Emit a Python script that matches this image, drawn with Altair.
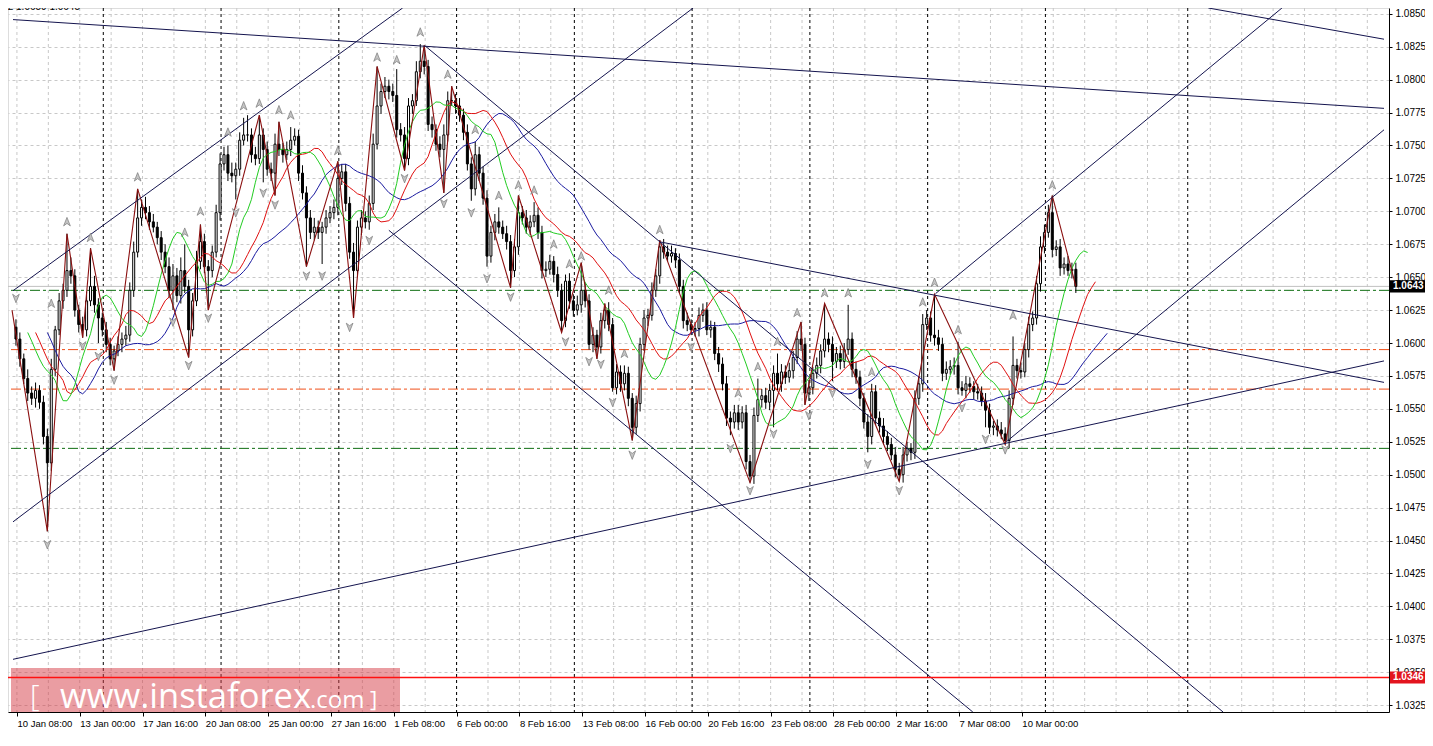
import json
import altair as alt
import pandas as pd

# ---------------- data ----------------
x_labels = ["10 Jan 08:00", "13 Jan 00:00", "17 Jan 16:00", "20 Jan 08:00", "25 Jan 00:00",
            "27 Jan 16:00", "1 Feb 08:00", "6 Feb 00:00", "8 Feb 16:00", "13 Feb 08:00",
            "16 Feb 00:00", "20 Feb 16:00", "23 Feb 08:00", "28 Feb 00:00", "2 Mar 16:00",
            "7 Mar 08:00", "10 Mar 00:00"]

first_open = 1.0612
closes = [
    1.0603, 1.0588, 1.0573, 1.0562, 1.0558, 1.0564, 1.0555, 1.0529, 1.0509, 1.0580,
    1.0610, 1.0632, 1.0640, 1.0655, 1.0651, 1.0625, 1.0614, 1.0610, 1.0632, 1.0643,
    1.0629, 1.0619, 1.0610, 1.0599, 1.0588, 1.0594, 1.0599, 1.0603, 1.0606, 1.0640,
    1.0669, 1.0695, 1.0703, 1.0699, 1.0692, 1.0688, 1.0680, 1.0669, 1.0658, 1.0640,
    1.0651, 1.0636, 1.0655, 1.0643, 1.0610, 1.0632, 1.0662, 1.0677, 1.0658, 1.0655,
    1.0669, 1.0699, 1.0736, 1.0743, 1.0729, 1.0727, 1.0732, 1.0754, 1.0758, 1.0758,
    1.0743, 1.0740, 1.0758, 1.0747, 1.0732, 1.0729, 1.0751, 1.0747, 1.0743, 1.0747,
    1.0754, 1.0757, 1.0729, 1.0714, 1.0695, 1.0684, 1.0688, 1.0684, 1.0688, 1.0695,
    1.0699, 1.0703, 1.0725, 1.0730, 1.0706, 1.0669, 1.0655, 1.0688, 1.0695, 1.0692,
    1.0706, 1.0751, 1.0780, 1.0791, 1.0795, 1.0791, 1.0788, 1.0762, 1.0758, 1.0740,
    1.0780, 1.0784, 1.0806, 1.0814, 1.0810, 1.0766, 1.0762, 1.0751, 1.0747, 1.0758,
    1.0784, 1.0784, 1.0780, 1.0773, 1.0760, 1.0736, 1.0717, 1.0743, 1.0729, 1.0710,
    1.0666, 1.0684, 1.0692, 1.0688, 1.0683, 1.0677, 1.0655, 1.0673, 1.0699, 1.0695,
    1.0688, 1.0692, 1.0697, 1.0684, 1.0655, 1.0656, 1.0662, 1.0652, 1.0640, 1.0617,
    1.0647, 1.0632, 1.0625, 1.0629, 1.0640, 1.0632, 1.0599, 1.0606, 1.0597, 1.0617,
    1.0625, 1.0614, 1.0566, 1.0578, 1.0569, 1.0577, 1.0558, 1.0536, 1.0554, 1.0599,
    1.0619, 1.0621, 1.0640, 1.0651, 1.0673, 1.0669, 1.0666, 1.0668, 1.0663, 1.0643,
    1.0617, 1.0614, 1.0610, 1.0611, 1.0621, 1.0625, 1.0610, 1.0612, 1.0592, 1.0584,
    1.0569, 1.0543, 1.0540, 1.0547, 1.0540, 1.0547, 1.0510, 1.0499, 1.0545, 1.0557,
    1.0560, 1.0555, 1.0564, 1.0577, 1.0569, 1.0578, 1.0574, 1.0579, 1.0589, 1.0603,
    1.0599, 1.0562, 1.0566, 1.0577, 1.0583, 1.0594, 1.0603, 1.0599, 1.0586, 1.0592,
    1.0586, 1.0595, 1.0603, 1.0580, 1.0574, 1.0558, 1.0540, 1.0529, 1.0563, 1.0543,
    1.0537, 1.0529, 1.0523, 1.0515, 1.0504, 1.0500, 1.0515, 1.0520, 1.0517, 1.0558,
    1.0569, 1.0614, 1.0619, 1.0606, 1.0604, 1.0599, 1.0577, 1.0580, 1.0582, 1.0583,
    1.0566, 1.0564, 1.0569, 1.0567, 1.0563, 1.0562, 1.0556, 1.0549, 1.0536, 1.0537,
    1.0534, 1.0531, 1.0526, 1.0558, 1.0583, 1.0579, 1.0578, 1.0595, 1.0614, 1.0619,
    1.0645, 1.0673, 1.0684, 1.0699, 1.0671, 1.0673, 1.0657, 1.0660, 1.0655, 1.0656,
    1.0643]

# upper / lower shadow length of each candle, in pips
up_wick = [
    6, 5, 4, 7, 5, 6, 4, 5, 6, 8,
    3, 6, 5, 28, 10, 5, 4, 6, 7, 29,
    8, 5, 4, 6, 5, 4, 6, 5, 7, 6,
    8, 22, 6, 8, 5, 6, 4, 5, 6, 7,
    9, 6, 10, 20, 5, 6, 8, 13, 6, 5,
    5, 6, 8, 6, 7, 8, 5, 6, 13, 15,
    5, 6, 15, 5, 6, 5, 8, 17, 5, 6,
    10, 6, 5, 6, 5, 6, 7, 5, 4, 6,
    5, 6, 13, 6, 6, 5, 7, 5, 6, 5,
    6, 8, 30, 6, 7, 5, 6, 20, 5, 6,
    6, 5, 8, 13, 12, 5, 6, 4, 6, 8,
    7, 11, 5, 6, 5, 6, 5, 10, 6, 5,
    6, 5, 6, 11, 5, 6, 5, 6, 13, 5,
    6, 5, 10, 6, 5, 6, 5, 4, 6, 5,
    5, 6, 5, 7, 21, 6, 5, 6, 4, 6,
    5, 6, 5, 6, 5, 6, 5, 4, 6, 5,
    6, 5, 6, 5, 5, 6, 5, 6, 4, 5,
    5, 6, 4, 5, 6, 5, 6, 5, 4, 5,
    5, 6, 5, 6, 6, 5, 6, 5, 6, 16,
    5, 6, 5, 6, 15, 6, 5, 6, 5, 6,
    13, 5, 6, 5, 6, 5, 27, 5, 6, 5,
    6, 5, 26, 5, 6, 5, 4, 6, 6, 5,
    5, 6, 4, 5, 6, 5, 6, 5, 4, 6,
    6, 8, 6, 5, 31, 6, 5, 6, 5, 6,
    18, 5, 6, 5, 4, 6, 5, 6, 5, 4,
    5, 6, 5, 6, 22, 5, 6, 5, 6, 5,
    6, 8, 6, 6, 13, 5, 6, 5, 6, 5,
    5]
dn_wick = [
    5, 6, 4, 6, 5, 7, 5, 6, 52, 6,
    5, 4, 6, 5, 6, 5, 6, 6, 5, 4,
    6, 19, 5, 6, 5, 9, 4, 6, 5, 5,
    5, 4, 6, 5, 6, 4, 5, 6, 5, 6,
    15, 5, 6, 5, 21, 5, 4, 6, 5, 30,
    5, 4, 6, 5, 6, 5, 18, 5, 4, 5,
    6, 5, 4, 25, 5, 6, 17, 5, 6, 4,
    5, 4, 6, 5, 37, 5, 6, 5, 24, 5,
    4, 5, 6, 5, 6, 5, 36, 5, 6, 5,
    6, 5, 4, 6, 5, 6, 5, 6, 5, 9,
    5, 6, 4, 5, 6, 5, 6, 5, 6, 33,
    5, 4, 6, 5, 6, 5, 9, 5, 6, 5,
    8, 5, 6, 5, 4, 6, 13, 5, 6, 5,
    5, 6, 4, 5, 6, 5, 4, 6, 5, 9,
    5, 6, 5, 4, 6, 5, 4, 6, 9, 5,
    6, 5, 3, 5, 6, 5, 6, 10, 5, 6,
    5, 6, 4, 5, 6, 5, 4, 5, 6, 5,
    6, 5, 4, 5, 6, 5, 4, 6, 5, 6,
    5, 6, 10, 5, 6, 5, 6, 5, 6, 5,
    6, 5, 6, 28, 5, 6, 5, 4, 6, 5,
    5, 9, 6, 5, 4, 6, 5, 6, 15, 5,
    6, 5, 4, 6, 5, 6, 5, 12, 6, 5,
    5, 6, 5, 4, 6, 5, 6, 5, 6, 5,
    5, 6, 4, 5, 6, 5, 6, 5, 4, 6,
    5, 4, 6, 5, 6, 5, 4, 13, 5, 6,
    5, 4, 3, 6, 5, 6, 5, 4, 6, 5,
    5, 6, 5, 4, 6, 5, 6, 5, 4, 6,
    5]

# zigzag vertices (bar index, price)
zz_bar = [-1, 8, 13, 17, 19, 25, 31, 44, 47, 49, 62, 66, 67, 74, 82, 86, 92, 99, 104, 109, 111,
          126, 128, 139, 144, 148, 150, 157, 164, 187, 200, 201, 206, 225, 234, 252, 264, 270]
zz_price = [1.0625, 1.0457, 1.0683, 1.0604, 1.0672, 1.0579, 1.0717, 1.0589, 1.0690, 1.0625,
            1.0773, 1.0712, 1.0768, 1.0658, 1.0738, 1.0619, 1.0810, 1.0731, 1.0826, 1.0714,
            1.0795, 1.0642, 1.0712, 1.0608, 1.0661, 1.0588, 1.0630, 1.0526, 1.0678, 1.0494,
            1.0616, 1.0553, 1.0630, 1.0495, 1.0637, 1.0523, 1.0712, 1.0643]

# fractal arrows
up_bar = [9, 13, 19, 31, 43, 47, 54, 58, 62, 67, 70, 82, 92, 97, 103, 110, 117, 123, 128, 132,
          137, 141, 144, 151, 155, 164, 184, 189, 194, 199, 206, 212, 218, 231, 234, 240, 254, 264]
up_price = [1.0630, 1.0692, 1.0680, 1.0726, 1.0684, 1.0700, 1.0760, 1.0780, 1.0782, 1.0777,
            1.0773, 1.0746, 1.0817, 1.0815, 1.0836, 1.0804, 1.0762, 1.0712, 1.0720, 1.0716,
            1.0675, 1.0660, 1.0666, 1.0640, 1.0592, 1.0686, 1.0562, 1.0582, 1.0601, 1.0623,
            1.0638, 1.0638, 1.0578, 1.0631, 1.0646, 1.0610, 1.0621, 1.0720]
dn_bar = [0, 8, 17, 21, 25, 40, 44, 49, 56, 63, 66, 74, 78, 85, 90, 99, 109, 116, 120, 126,
          140, 146, 149, 152, 157, 172, 182, 187, 193, 202, 208, 217, 225, 241, 247, 252]
dn_price = [1.0634, 1.0447, 1.0598, 1.0590, 1.0572, 1.0616, 1.0583, 1.0619, 1.0699, 1.0714,
            1.0705, 1.0651, 1.0651, 1.0612, 1.0678, 1.0725, 1.0706, 1.0699, 1.0649, 1.0635,
            1.0601, 1.0586, 1.0584, 1.0555, 1.0515, 1.0597, 1.0520, 1.0488, 1.0531, 1.0545,
            1.0562, 1.0508, 1.0488, 1.0551, 1.0527, 1.0519]

# trend lines: start bar, start price, end bar, end price
tl_b1 = [-0.75, 303.75, -0.75, -0.75, 104.25, 95.0, -0.75, 164.25, 234.25, 252.25]
tl_p1 = [1.08456, 1.08544, 1.06397, 1.04642, 1.08256, 1.06856, 1.03598, 1.06767, 1.06375, 1.05249]
tl_b2 = [348.5, 348.5, 98.5, 172.5, 307.5, 243.75, 348.5, 348.5, 322.5, 348.5]
tl_p2 = [1.07782, 1.08307, 1.08544, 1.08544, 1.03198, 1.03198, 1.05864, 1.05701, 1.08544, 1.07619]

green_levels = [1.0640, 1.0520]
orange_levels = [1.0595, 1.0565]
red_level = 1.0346
bid_price = 1.0643
week_separators = [22.25, 52.25, 82.25, 112.25, 142.25, 172.25, 202.25, 232.25, 262.25, 298.5]

# ---------------- table ----------------
opens = [first_open] + closes[:-1]
rows = []
for i, (o, c, u, d) in enumerate(zip(opens, closes, up_wick, dn_wick)):
    h = max(o, c) + u / 10000.0
    l = min(o, c) - d / 10000.0
    rows.append({"b": i, "o": o, "c": c, "h": h, "l": l, "med": (h + l) / 2})
df = pd.DataFrame(rows)

W, H = 1381, 704
X = alt.Scale(domain=[-0.75, 348.5], nice=False, zero=False)
Y = alt.Scale(domain=[1.03198, 1.08544], nice=False, zero=False)
FONT = "Liberation Sans"

yticks = [round(1.0325 + 0.0025 * k, 4) for k in range(22)]
xtick_vals = [0.25 + 16 * k for k in range(len(x_labels))]
label_expr = json.dumps(x_labels) + "[floor(datum.value / 16)]"

XA = alt.Axis(values=xtick_vals, labelExpr=label_expr, labelAlign="left", labelBaseline="top",
              labelPadding=2, tickSize=4, tickColor="black", domainColor="black", grid=False,
              labelFont=FONT, labelFontSize=9.5, labelColor="black", title=None,
              labelOverlap=False, labelFlush=False, orient="bottom")
YA = alt.Axis(orient="right", values=yticks, format=".4f", grid=True, gridColor="#c8c8c8",
              gridDash=[3, 3], tickSize=3, tickColor="black", domainColor="black",
              labelFont=FONT, labelFontSize=10, labelColor="black", labelPadding=3,
              title=None, labelOverlap=False, labelFlush=False)


def xq(f):
    return alt.X(f, scale=X, axis=XA)


def yq(f):
    return alt.Y(f, scale=Y, axis=YA)


# vertical grid
vgrid = alt.Chart(pd.DataFrame({"g": [0.25 + 8 * k for k in range(44)]})).mark_rule(
    color="#c8c8c8", strokeDash=[3, 3], strokeWidth=1).encode(x=xq("g:Q"))
yaxis_layer = alt.Chart(pd.DataFrame({"v": yticks})).mark_rule(opacity=0).encode(y=yq("v:Q"))

seps = alt.Chart(pd.DataFrame({"s": week_separators})).mark_rule(
    color="black", strokeDash=[3, 3], strokeWidth=1).encode(x=xq("s:Q"))

levels = pd.DataFrame({
    "p": [bid_price] + green_levels + orange_levels,
    "kind": ["bid", "green", "green", "orange", "orange"],
})
level_colors = alt.Scale(domain=["bid", "green", "orange"],
                         range=["#c0c0c0", "#0f6e12", "#f0501a"])
level_dash = alt.Scale(domain=["bid", "green", "orange"],
                       range=[[1, 0], [10, 3, 3, 3], [10, 3, 3, 3]])
level_lines = alt.Chart(levels).mark_rule(strokeWidth=1).encode(
    y=yq("p:Q"),
    stroke=alt.Stroke("kind:N", scale=level_colors, legend=None),
    strokeDash=alt.StrokeDash("kind:N", scale=level_dash, legend=None))

red_rule = alt.Chart(pd.DataFrame({"p": [red_level]})).mark_rule(
    color="#ff1010", strokeWidth=1.6, opacity=1).encode(y=yq("p:Q"))

base = alt.Chart(df)
wicks = base.mark_rule(color="black", strokeWidth=1).encode(
    x=xq("b:Q"), y=yq("l:Q"), y2="h:Q")
bodies = base.mark_bar(size=2, stroke="black", strokeWidth=1).encode(
    x=xq("b:Q"), y=yq("o:Q"), y2="c:Q",
    fill=alt.condition("datum.c > datum.o", alt.value("white"), alt.value("black")))


def alligator(n, shift, color):
    return base.transform_window(
        ma="mean(med)", frame=[-(n - 1), 0], sort=[alt.SortField("b")]
    ).transform_calculate(bs=f"datum.b + {shift}").mark_line(color=color, strokeWidth=1).encode(
        x=xq("bs:Q"), y=yq("ma:Q"), order="bs:Q")


jaw = alligator(25, 8, "#1a1aa0")
teeth = alligator(15, 5, "#e01010")
lips = alligator(9, 3, "#22cc22")

zz = alt.Chart(pd.DataFrame({"b": zz_bar, "p": zz_price})).mark_line(
    color="#8b1010", strokeWidth=1.1, clip=True).encode(x=xq("b:Q"), y=yq("p:Q"), order="b:Q")

tl_rows = []
for k in range(len(tl_b1)):
    tl_rows.append({"id": k, "b": tl_b1[k], "p": tl_p1[k]})
    tl_rows.append({"id": k, "b": tl_b2[k], "p": tl_p2[k]})
tlines = alt.Chart(pd.DataFrame(tl_rows)).mark_line(color="#14144e", strokeWidth=1, clip=True).encode(
    x=xq("b:Q"), y=yq("p:Q"), detail="id:N")

UP = "M0,-1L0.75,0.9L0,0.35L-0.75,0.9Z"
DN = "M0,1L0.75,-0.9L0,-0.35L-0.75,-0.9Z"
arr_up = alt.Chart(pd.DataFrame({"b": up_bar, "p": up_price})).mark_point(
    shape=UP, filled=True, size=80, fill="#c4c4c4", stroke="#7a7a7a", strokeWidth=0.7, opacity=1).encode(
    x=xq("b:Q"), y=yq("p:Q"))
arr_dn = alt.Chart(pd.DataFrame({"b": dn_bar, "p": dn_price})).mark_point(
    shape=DN, filled=True, size=80, fill="#c4c4c4", stroke="#7a7a7a", strokeWidth=0.7, opacity=1).encode(
    x=xq("b:Q"), y=yq("p:Q"))

tags = pd.DataFrame({"p": [bid_price, red_level], "txt": ["1.0643", "1.0346"],
                     "col": ["black", "#e3141e"]})
tag_rect = alt.Chart(tags).transform_calculate(
    p1="datum.p - 0.00046", p2="datum.p + 0.00046").mark_rect().encode(
    x=alt.value(W + 1), x2=alt.value(W + 36),
    y=yq("p1:Q"), y2="p2:Q",
    color=alt.Color("col:N", scale=None))
tag_text = alt.Chart(tags).mark_text(align="left", baseline="middle", font=FONT, fontSize=10,
                                     fontWeight="bold", color="white").encode(
    x=alt.value(W + 4), y=yq("p:Q"), text="txt:N")

# watermark
wm_rect = alt.Chart(pd.DataFrame({"a": [0]})).mark_rect(color="#d63c46", opacity=0.5).encode(
    x=alt.value(3), x2=alt.value(392), y=alt.value(660), y2=alt.value(H))
wm_txt1 = alt.Chart(pd.DataFrame({"t": ["www.instaforex"]})).mark_text(
    align="left", baseline="alphabetic", font="Open Sans", fontSize=34.5, color="white").encode(
    x=alt.value(52), y=alt.value(700), text="t:N")
wm_txt2 = alt.Chart(pd.DataFrame({"t": [".com"]})).mark_text(
    align="left", baseline="alphabetic", font="Open Sans", fontSize=24, color="white").encode(
    x=alt.value(302), y=alt.value(700), text="t:N")
wm_br1 = alt.Chart(pd.DataFrame({"t": ["["]})).mark_text(
    align="left", baseline="alphabetic", font="Open Sans", fontSize=30, fontWeight=300, color="white").encode(
    x=alt.value(22), y=alt.value(698), text="t:N")
wm_br2 = alt.Chart(pd.DataFrame({"t": ["]"]})).mark_text(
    align="left", baseline="alphabetic", font="Open Sans", fontSize=22, color="white").encode(
    x=alt.value(362), y=alt.value(699), text="t:N")

header = alt.Chart(pd.DataFrame({"t": ["1.0602 1.0659 1.0645"]})).mark_text(
    align="right", baseline="middle", font=FONT, fontSize=10, color="black").encode(
    x=alt.value(72), y=alt.value(-1), text="t:N")

chart = alt.layer(
    vgrid, yaxis_layer, seps, level_lines,
    wicks, bodies, jaw, teeth, lips, zz, tlines, arr_up, arr_dn,
    wm_rect, red_rule, wm_txt1, wm_txt2, wm_br1, wm_br2, tag_rect, tag_text, header
).properties(
    width=W, height=H,
    autosize=alt.AutoSizeParams(type="none"),
    padding={"left": 0, "top": 0, "right": 36, "bottom": 22},
).configure_view(stroke=None).configure(background="white")

chart.save("out.html", embed_options={"renderer": "svg", "actions": False})
